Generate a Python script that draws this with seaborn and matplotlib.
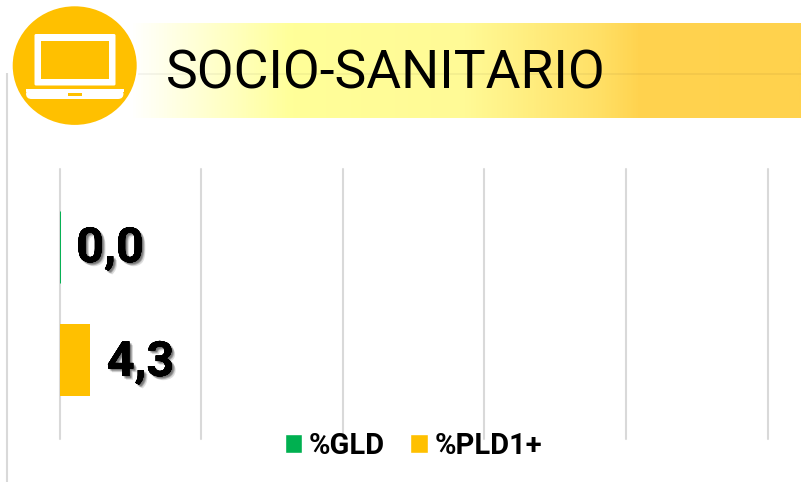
import numpy as np
import pandas as pd
import matplotlib
matplotlib.use("Agg")
import matplotlib.pyplot as plt
import matplotlib.patheffects as pe
from matplotlib.colors import LinearSegmentedColormap
from matplotlib.patches import Ellipse, Rectangle, FancyBboxPatch
import seaborn as sns

title = "SOCIO-SANITARIO"
category = ["SOCIO-SANITARIO"]
series = ["%GLD", "%PLD1+"]
values = [0.0, 4.3]
value_labels = ["0,0", "4,3"]
colors = ["#00B050", "#FFC000"]
x_ticks = [0, 20, 40, 60, 80, 100]

sns.set_theme(style="white")
plt.rcParams["font.family"] = ["Roboto", "DejaVu Sans"]

W, H = 801, 482
fig = plt.figure(figsize=(W / 100, H / 100), dpi=100, facecolor="white")

# Header decoration, in pixel coordinates
bg = fig.add_axes([0, 0, 1, 1], zorder=0)
bg.axis("off")
cmap = LinearSegmentedColormap.from_list(
    "band",
    [(0.0, "#FFFFFF"), (0.24, "#FFFF99"), (0.50, "#FFFA96"), (0.70, "#FFE066"), (0.76, "#FFD34F"), (1.0, "#FFD24D")],
)
bg.imshow(np.linspace(0, 1, 666)[None, :], cmap=cmap, extent=(130, W, 118, 23), aspect="auto", zorder=1)
bg.set_xlim(0, W)
bg.set_ylim(H, 0)
bg.plot([135, W], [73.5, 73.5], color="#000000", alpha=0.05, lw=1.2, zorder=2)
bg.plot([7, 7], [73, H], color="#D9D9D9", lw=1.5, zorder=2, solid_capstyle="butt")
bg.add_patch(Ellipse((74.7, 65.6), 128, 122, fc="white", ec="none", zorder=3))
bg.add_patch(Ellipse((74.7, 65.6), 124, 118.6, fc="#FFC000", ec="none", zorder=4))
bg.add_patch(FancyBboxPatch((34.5, 34), 81, 51.5, boxstyle="round,pad=0,rounding_size=1.5", fc="white", ec="none", zorder=5))
bg.add_patch(Rectangle((41, 40.5), 68, 38, fc="#FFC000", ec="none", zorder=6))
bg.add_patch(Rectangle((25.5, 89), 98.5, 3, fc="white", ec="none", zorder=5))
bg.add_patch(FancyBboxPatch((26, 89), 97.5, 10, boxstyle="round,pad=0,rounding_size=5.5", fc="white", ec="none", zorder=5))
bg.add_patch(Rectangle((68, 92.5), 14, 3.5, fc="#FFC000", ec="none", zorder=6))
bg.text(166, 74, title, fontsize=38.5, color="black", va="center", ha="left", family=["Roboto", "DejaVu Sans"], zorder=7)

# Chart
ax = fig.add_axes([59.5 / W, 1 - 438.5 / H, (767.6 - 59.5) / W, 270 / H], zorder=1)
ax.patch.set_alpha(0)
df = pd.DataFrame({"cat": category * len(series), "serie": series, "val": values})
sns.barplot(
    data=df, x="val", y="cat", hue="serie", hue_order=series, palette=colors,
    width=0.844, gap=0.368, saturation=1, ax=ax, legend=True,
)
ax.set_xlim(x_ticks[0], x_ticks[-1])
ax.set_ylim(0.5, -0.5)
ax.set_xticks(x_ticks)
ax.set_yticks([])
ax.set_xlabel("")
ax.set_ylabel("")
ax.tick_params(bottom=False, labelbottom=False)
ax.grid(axis="x", color="#D9D9D9", lw=1.5)
ax.grid(axis="y", visible=False)
ax.set_axisbelow(True)
for gl in ax.get_xgridlines():
    gl.set_clip_on(False)
for s in ax.spines.values():
    s.set_visible(False)

soft = [
    pe.withSimplePatchShadow(offset=(dx, -dy), shadow_rgbFace="#000000", alpha=0.13)
    for dx, dy in [(0.6, 0.6), (1.2, 1.2), (2.0, 1.2), (1.2, 2.0), (2.0, 2.0), (2.7, 2.7)]
]
for container, lab, col, val in zip(ax.containers, value_labels, colors, values):
    for bar in container:
        bar.set_clip_on(False)
        if val == 0:
            bar.set_edgecolor(col)
            bar.set_linewidth(0.7)
        else:
            bar.set_linewidth(0)
    txts = ax.bar_label(container, labels=[lab], padding=12, fontsize=35, fontweight="bold", color="black", family=["Roboto", "DejaVu Sans"])
    for t in txts:
        t.set_path_effects(soft + [pe.Normal()])
        t.xyann = (12, -1.8)

handles, labels = ax.get_legend_handles_labels()
leg = ax.legend(
    handles, labels, ncol=2, loc="center", bbox_to_anchor=(413.5 / W, 1 - 446 / H),
    bbox_transform=fig.transFigure, frameon=False,
    prop={"family": "Roboto", "weight": "bold", "size": 21},
    handlelength=0.6, handleheight=0.6, handletextpad=0.24, columnspacing=0.86, borderpad=0,
)
for t in leg.get_texts():
    t.set_color("black")

fig.savefig("out.png", dpi=100, facecolor="white")
